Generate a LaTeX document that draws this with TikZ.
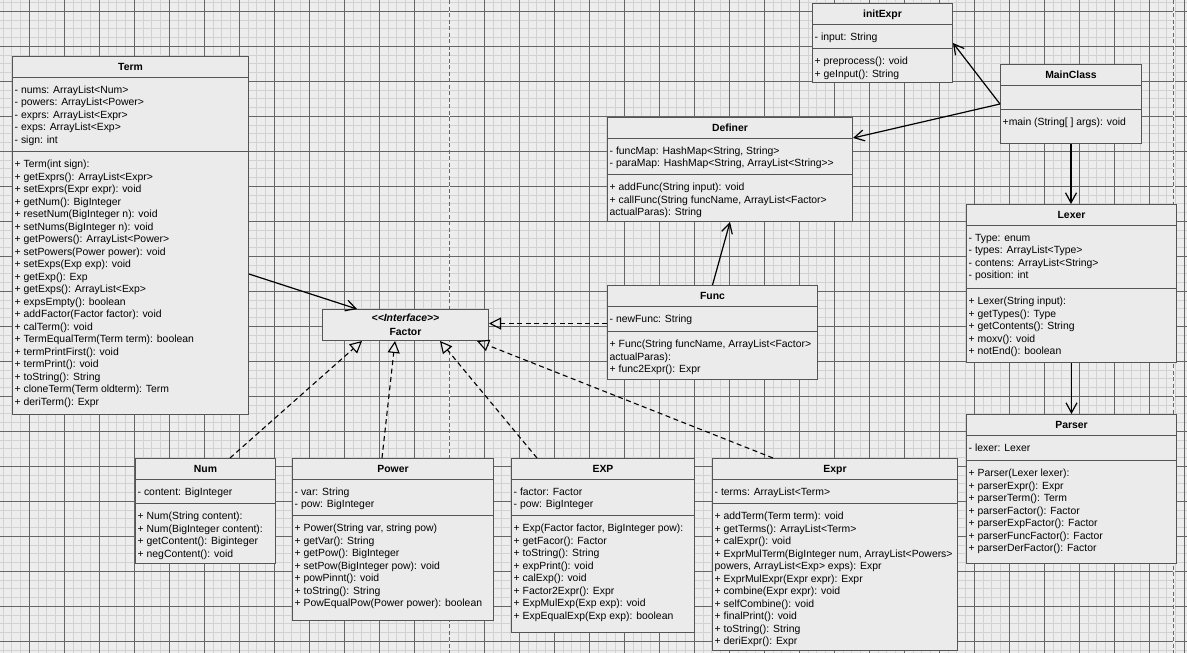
\documentclass[tikz,border=0pt]{standalone}
\usepackage{fontspec}
\setmainfont{Liberation Sans}[Ligatures=TeXOff]
\usetikzlibrary{positioning,calc,arrows.meta}
\definecolor{gridBg}{HTML}{EDEDED}
\definecolor{gridMinor}{HTML}{D2D2D2}
\definecolor{gridMajor}{HTML}{666666}
\definecolor{boxFill}{HTML}{EBEBEB}
\definecolor{boxLine}{HTML}{555555}

\tikzset{
  classbox/.style={draw=boxLine, fill=boxFill, line width=1pt, anchor=north west, inner sep=0pt},
  classname/.style={anchor=base, inner sep=0pt, font=\fontsize{10.4}{12.5}\selectfont\bfseries},
  member/.style={anchor=base west, inner sep=0pt, font=\fontsize{10.4}{12.5}\selectfont},
  divider/.style={draw=boxLine, line width=1pt},
  assoc/.style={line width=1.2pt, -{Straight Barb[length=10pt,width=11pt]}},
  realize/.style={line width=1.1pt, dash pattern=on 5pt off 3.5pt, -{Triangle[open,length=12pt,width=12pt]}}
}

% name, x, y, width, height, title, divider offset, attributes, methods
\newcommand{\umlclass}[9]{%
  \node[classbox, minimum width=#4, minimum height=#5] (#1) at (#2,#3) {};
  \node[classname] at ($(#1.north)+(0,14)$) {#6};
  \draw[divider] ($(#1.north west)+(0,21)$) -- ($(#1.north east)+(0,21)$);
  \draw[divider] ($(#1.north west)+(0,#7)$) -- ($(#1.north east)+(0,#7)$);
  \foreach \m [count=\i from 0] in {#8}
    \node[member] at ($(#1.north west)+(2.5,{37+12.5*\i})$) {\m};
  \foreach \m [count=\i from 0] in {#9}
    \node[member] at ($(#1.north west)+(2.5,{#7+16.5+12.5*\i})$) {\m};
}

\begin{document}
\begin{tikzpicture}[x=1pt, y=-1pt]
\useasboundingbox (0,0) rectangle (1187,653);
\clip (0,0) rectangle (1187,653);

% grid paper
\fill[gridBg] (0,0) rectangle (1187,653);
\foreach \x in {-5.7,3.05,...,1190}
  \draw[gridMinor, line width=1pt] (\x,0) -- (\x,653);
\foreach \y in {-23.7,-14.95,...,660}
  \draw[gridMinor, line width=1pt] (0,\y) -- (1187,\y);
\foreach \x in {-5.7,29.3,...,1190}
  \draw[gridMajor, line width=0.9pt] (\x,0) -- (\x,653);
\foreach \y in {-23.7,11.3,...,660}
  \draw[gridMajor, line width=0.9pt] (0,\y) -- (1187,\y);
\foreach \x in {449.3,1173.7} {
  \draw[gridBg, line width=1.6pt] (\x,0) -- (\x,653);
  \draw[gridMajor, line width=1.2pt, dash pattern=on 4pt off 2.5pt] (\x,0) -- (\x,653);
}

% classes
\umlclass{term}{12}{56}{236}{358}{Term}{95}
  {- nums: ArrayList<Num>, - powers: ArrayList<Power>, - exprs: ArrayList<Expr>, - exps: ArrayList<Exp>, - sign: int}
  {+ Term(int sign):, + getExprs(): ArrayList<Expr>, + setExprs(Expr expr): void, + getNum(): BigInteger,
   + resetNum(BigInteger n): void, + setNums(BigInteger n): void, + getPowers(): ArrayList<Power>,
   + setPowers(Power power): void, + setExps(Exp exp): void, + getExp(): Exp, + getExps(): ArrayList<Exp>,
   + expsEmpty(): boolean, + addFactor(Factor factor): void, + calTerm(): void, + TermEqualTerm(Term term): boolean,
   + termPrintFirst(): void, + termPrint(): void, + toString(): String, + cloneTerm(Term oldterm): Term, + deriTerm(): Expr}

\umlclass{initexpr}{812}{3}{140}{79}{initExpr}{45}
  {- input: String}
  {+ preprocess(): void, + geInput(): String}

\umlclass{mainclass}{1000}{64}{141}{79}{MainClass}{45}
  {}
  {+main (String[ ] args): void}

\umlclass{definer}{607}{117}{245}{104}{Definer}{57.4}
  {{- funcMap: HashMap<String, String>}, {- paraMap: HashMap<String, ArrayList<String>>}}
  {+ addFunc(String input): void, {+ callFunc(String funcName, ArrayList<Factor>}, actualParas): String}

\umlclass{func}{607}{285}{210}{94}{Func}{46}
  {- newFunc: String}
  {{+ Func(String funcName, ArrayList<Factor>}, actualParas):, + func2Expr(): Expr}

\umlclass{lexer}{966}{204}{210}{158}{Lexer}{84}
  {- Type: enum, - types: ArrayList<Type>, - contens: ArrayList<String>, - position: int}
  {+ Lexer(String input):, + getTypes(): Type, + getContents(): String, + moxv(): void, + notEnd(): boolean}

\umlclass{parser}{966}{414}{210}{149}{Parser}{46}
  {- lexer: Lexer}
  {+ Parser(Lexer lexer):, + parserExpr(): Expr, + parserTerm(): Term, + parserFactor(): Factor,
   + parserExpFactor(): Factor, + parserFuncFactor(): Factor, + parserDerFactor(): Factor}

\umlclass{num}{135}{458}{140}{105}{Num}{45}
  {- content: BigInteger}
  {+ Num(String content):, + Num(BigInteger content):, + getContent(): Biginteger, + negContent(): void}

\umlclass{power}{292}{458}{201}{162}{Power}{57.4}
  {- var: String, - pow: BigInteger}
  {{+ Power(String var, string pow)}, + getVar(): String, + getPow(): BigInteger, + setPow(BigInteger pow): void,
   + powPinnt(): void, + toString(): String, + PowEqualPow(Power power): boolean}

\umlclass{exp}{511}{458}{183}{174}{EXP}{57.4}
  {- factor: Factor, - pow: BigInteger}
  {{+ Exp(Factor factor, BigInteger pow):}, + getFacor(): Factor, + toString(): String, + expPrint(): void,
   + calExp(): void, + Factor2Expr(): Expr, + ExpMulExp(Exp exp): void, + ExpEqualExp(Exp exp): boolean}

\umlclass{expr}{712}{458}{245}{192}{Expr}{45}
  {- terms: ArrayList<Term>}
  {+ addTerm(Term term): void, + getTerms(): ArrayList<Term>, + calExpr(): void,
   {+ ExprMulTerm(BigInteger num, ArrayList<Powers>}, {powers, ArrayList<Exp> exps): Expr},
   + ExprMulExpr(Expr expr): Expr, + combine(Expr expr): void, + selfCombine(): void,
   + finalPrint(): void, + toString(): String, + deriExpr(): Expr}

% interface
\node[classbox, minimum width=166, minimum height=31] (factor) at (322,309) {};
\node[classname, font=\fontsize{10.4}{12.5}\selectfont\bfseries\itshape] at ($(factor.north)+(0,12.3)$) {<<Interface>>};
\node[classname] at ($(factor.north)+(0,26.3)$) {Factor};

% associations
\draw[assoc] ($(term.north east)+(0,218)$) -- ($(factor.north west)+(35,0)$);
\draw[assoc] ($(mainclass.north west)+(0,40)$) -- ($(initexpr.north east)+(0,40)$);
\draw[assoc] ($(mainclass.north west)+(0,40)$) -- ($(definer.north east)+(0,21)$);
\draw[assoc] (mainclass.south) -- (mainclass.south |- lexer.north);
\draw[assoc] (lexer.south) -- (parser.north);
\draw[assoc] (func.north) -- (definer.south);

% realizations
\draw[realize] ($(func.north west)+(0,38.5)$) -- ($(factor.north east)+(0,14.5)$);
\draw[realize] ($(num.north west)+(95,0)$) -- ($(factor.south west)+(40,0)$);
\draw[realize] ($(power.north west)+(90,0)$) -- ($(factor.south west)+(73,0)$);
\draw[realize] ($(exp.north west)+(26,0)$) -- ($(factor.south west)+(118,0)$);
\draw[realize] ($(expr.north west)+(61,0)$) -- ($(factor.south west)+(155,0)$);
\end{tikzpicture}
\end{document}
